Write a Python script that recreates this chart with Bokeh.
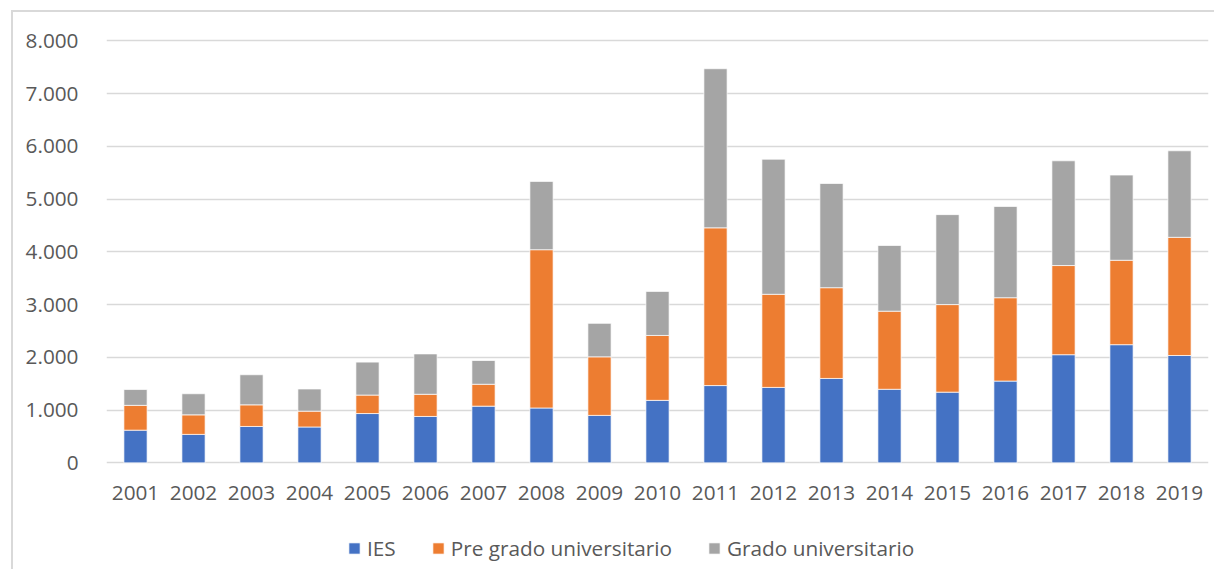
from bokeh.plotting import figure
from bokeh.models import (Range1d, FixedTicker, CustomJSTickFormatter, Legend,
                          LegendItem, FactorRange, ColumnDataSource)
from bokeh.embed import file_html
from bokeh.resources import INLINE

years = ["2001", "2002", "2003", "2004", "2005", "2006", "2007", "2008", "2009", "2010",
         "2011", "2012", "2013", "2014", "2015", "2016", "2017", "2018", "2019"]
ies = [620, 540, 690, 680, 935, 880, 1075, 1040, 900, 1185,
       1465, 1430, 1600, 1395, 1340, 1550, 2050, 2240, 2035]
pre_grado = [470, 370, 410, 300, 350, 420, 415, 3000, 1110, 1230,
             2990, 1765, 1720, 1480, 1660, 1580, 1690, 1600, 2240]
grado = [300, 400, 570, 420, 625, 765, 450, 1295, 635, 835,
         3015, 2560, 1975, 1245, 1705, 1730, 1985, 1615, 1640]
series_names = ["IES", "Pre grado universitario", "Grado universitario"]
colors = ["#4472C4", "#ED7D31", "#A5A5A5"]
y_ticks = [0, 1000, 2000, 3000, 4000, 5000, 6000, 7000, 8000]

source = ColumnDataSource(dict(years=years, ies=ies, pre=pre_grado, grado=grado))

FONT = "Open Sans"
TXT = "#595959"
FS = "20.75px"

# frame extends below zero to hold the axis labels and the legend
p = figure(x_range=FactorRange(*years), y_range=Range1d(-2021, 8100),
           frame_width=1102, frame_height=534, output_backend="svg", toolbar_location=None,
           min_border_left=93, min_border_right=6, min_border_top=23, min_border_bottom=0)
p.margin = (10, 0, 0, 11)
p.styles = {"border-left": "2px solid #d9d9d9", "border-top": "2px solid #d9d9d9"}
p.outline_line_color = None
p.background_fill_color = "white"
p.border_fill_color = "white"

rs = p.vbar_stack(["ies", "pre", "grado"], x="years", width=0.4, source=source,
                  color=colors, line_color="white", line_width=0.7)

p.xgrid.grid_line_color = None
p.ygrid.grid_line_color = "#d9d9d9"
p.ygrid.grid_line_width = 1.5
p.yaxis.ticker = FixedTicker(ticks=y_ticks)
p.yaxis.formatter = CustomJSTickFormatter(
    code='return Math.round(tick).toString().replace(/\\B(?=(\\d{3})+(?!\\d))/g, ".");')
for ax in (p.xaxis[0], p.yaxis[0]):
    ax.axis_line_color = None
    ax.major_tick_line_color = None
    ax.minor_tick_line_color = None
    ax.major_label_text_font = FONT
    ax.major_label_text_font_size = FS
    ax.major_label_text_color = TXT
p.yaxis.major_label_standoff = 22
p.xaxis.major_label_standoff = 17
p.xaxis.fixed_location = 0

legend = Legend(items=[LegendItem(label=n, renderers=[r]) for n, r in zip(series_names, rs)],
                location=(241, 7), orientation="horizontal")
legend.margin = 0
legend.padding = 0
legend.border_line_color = None
legend.background_fill_alpha = 0
legend.glyph_width = 14
legend.glyph_height = 14
legend.label_standoff = 6
legend.spacing = 35
legend.label_text_font = FONT
legend.label_text_font_size = FS
legend.label_text_color = TXT
p.add_layout(legend, "center")

open("out.html", "w").write(file_html(p, INLINE))
